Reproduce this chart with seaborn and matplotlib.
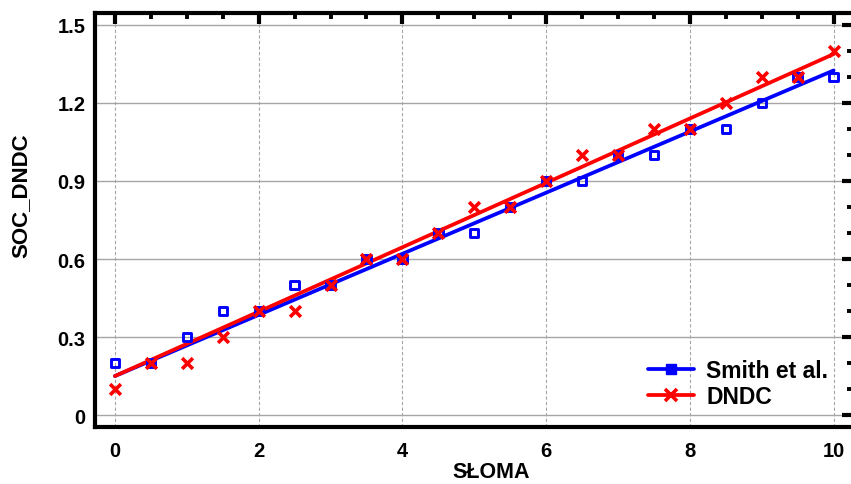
import numpy as np
import pandas as pd
import seaborn as sns
import matplotlib
matplotlib.use("Agg")
import matplotlib.pyplot as plt
from matplotlib.lines import Line2D
from matplotlib.ticker import MultipleLocator

# data
sloma = [0, 0.5, 1, 1.5, 2, 2.5, 3, 3.5, 4, 4.5, 5, 5.5, 6, 6.5, 7, 7.5, 8, 8.5, 9, 9.5, 10]
smith = [0.2, 0.2, 0.3, 0.4, 0.4, 0.5, 0.5, 0.6, 0.6, 0.7, 0.7, 0.8, 0.9, 0.9, 1.0, 1.0, 1.1, 1.1, 1.2, 1.3, 1.3]
dndc = [0.1, 0.2, 0.2, 0.3, 0.4, 0.4, 0.5, 0.6, 0.6, 0.7, 0.8, 0.8, 0.9, 1.0, 1.0, 1.1, 1.1, 1.2, 1.3, 1.3, 1.4]
# fitted trend lines as drawn in the reference (end points)
fit_x = [0, 10]
smith_fit = [0.15, 1.325]
dndc_fit = [0.15, 1.388]
x_ticks = [0, 2, 4, 6, 8, 10]
y_ticks = [0, 0.3, 0.6, 0.9, 1.2, 1.5]
y_tick_labels = ["0", "0.3", "0.6", "0.9", "1.2", "1.5"]
legend_labels = ["Smith et al.", "DNDC"]

df = pd.DataFrame({"SŁOMA": sloma, "Smith": smith, "DNDC": dndc})
fit_df = pd.DataFrame({"x": fit_x, "Smith": smith_fit, "DNDC": dndc_fit})

sns.set_style("white")
plt.rcParams["font.family"] = ["Liberation Sans", "DejaVu Sans"]
plt.rcParams["font.weight"] = "bold"
plt.rcParams["text.color"] = "black"
plt.rcParams["axes.labelcolor"] = "black"
plt.rcParams["xtick.color"] = "black"
plt.rcParams["ytick.color"] = "black"

W, H = 851, 485
fig = plt.figure(figsize=(W / 100, H / 100), dpi=100)
left, right, top, bottom = 95, 853, 14, 428
ax = fig.add_axes([left / W, 1 - bottom / H, (right - left) / W, (bottom - top) / H])

blue = "#0000ff"
red = "#ff0000"

ax.grid(True, axis="y", color="#a6a6a6", linewidth=1.0, linestyle="-", zorder=0)
ax.grid(True, axis="x", color="#a6a6a6", linewidth=0.8, linestyle=(0, (3, 2)), zorder=0)
ax.set_axisbelow(True)

sns.lineplot(data=fit_df, x="x", y="Smith", ax=ax, color=blue, linewidth=2.7, zorder=3)
sns.lineplot(data=fit_df, x="x", y="DNDC", ax=ax, color=red, linewidth=2.7, zorder=4)
sns.scatterplot(data=df, x="SŁOMA", y="Smith", ax=ax, marker="s", s=36,
                facecolor="none", edgecolor=blue, linewidth=2.1, zorder=5)
sns.scatterplot(data=df, x="SŁOMA", y="DNDC", ax=ax, marker="x", s=60,
                color=red, linewidth=2.6, zorder=6)

ax.set_xlim(-0.278, 10.27)
ax.set_ylim(-0.046, 1.546)
ax.set_xticks(x_ticks)
ax.set_xticklabels([str(t) for t in x_ticks])
ax.set_yticks(y_ticks)
ax.set_yticklabels(y_tick_labels)
ax.xaxis.set_minor_locator(MultipleLocator(0.5))
ax.yaxis.set_minor_locator(MultipleLocator(0.1))

ax.tick_params(which="major", direction="in", length=8, width=3, top=True, right=True,
               labelsize=14.5, color="black", labelcolor="black")
ax.tick_params(axis="x", which="major", pad=10)
ax.tick_params(axis="y", which="major", pad=7)
ax.tick_params(which="minor", direction="in", length=4.5, width=2.8, top=True, right=True, color="black")
for lab in ax.get_xticklabels() + ax.get_yticklabels():
    lab.set_fontweight("bold")

for side in ["left", "bottom", "top", "right"]:
    ax.spines[side].set_visible(True)
    ax.spines[side].set_color("black")
    ax.spines[side].set_linewidth(3)

ax.set_xlabel("SŁOMA", fontsize=15.5, fontweight="bold", color="black")
ax.xaxis.set_label_coords((491 - left) / (right - left), (bottom - 462) / (bottom - top))
ax.set_ylabel("SOC_DNDC", fontsize=16, fontweight="bold", color="black")
ax.yaxis.set_label_coords((31 - left) / (right - left), (bottom - 196) / (bottom - top))

handles = [
    Line2D([0], [0], color=blue, linewidth=2.7, marker="s", markersize=7,
           markerfacecolor=blue, markeredgecolor=blue),
    Line2D([0], [0], color=red, linewidth=2.7, marker="x", markersize=8, markeredgewidth=2.6),
]
ax.legend(handles, legend_labels, loc="center left", frameon=False,
          prop=dict(size=16.5, weight="bold"), handlelength=2.0, handletextpad=0.55,
          labelspacing=0.1, borderpad=0, borderaxespad=0,
          bbox_to_anchor=((648 - left) / (right - left), (bottom - 384.5) / (bottom - top)))

fig.savefig("out.png", dpi=100)
